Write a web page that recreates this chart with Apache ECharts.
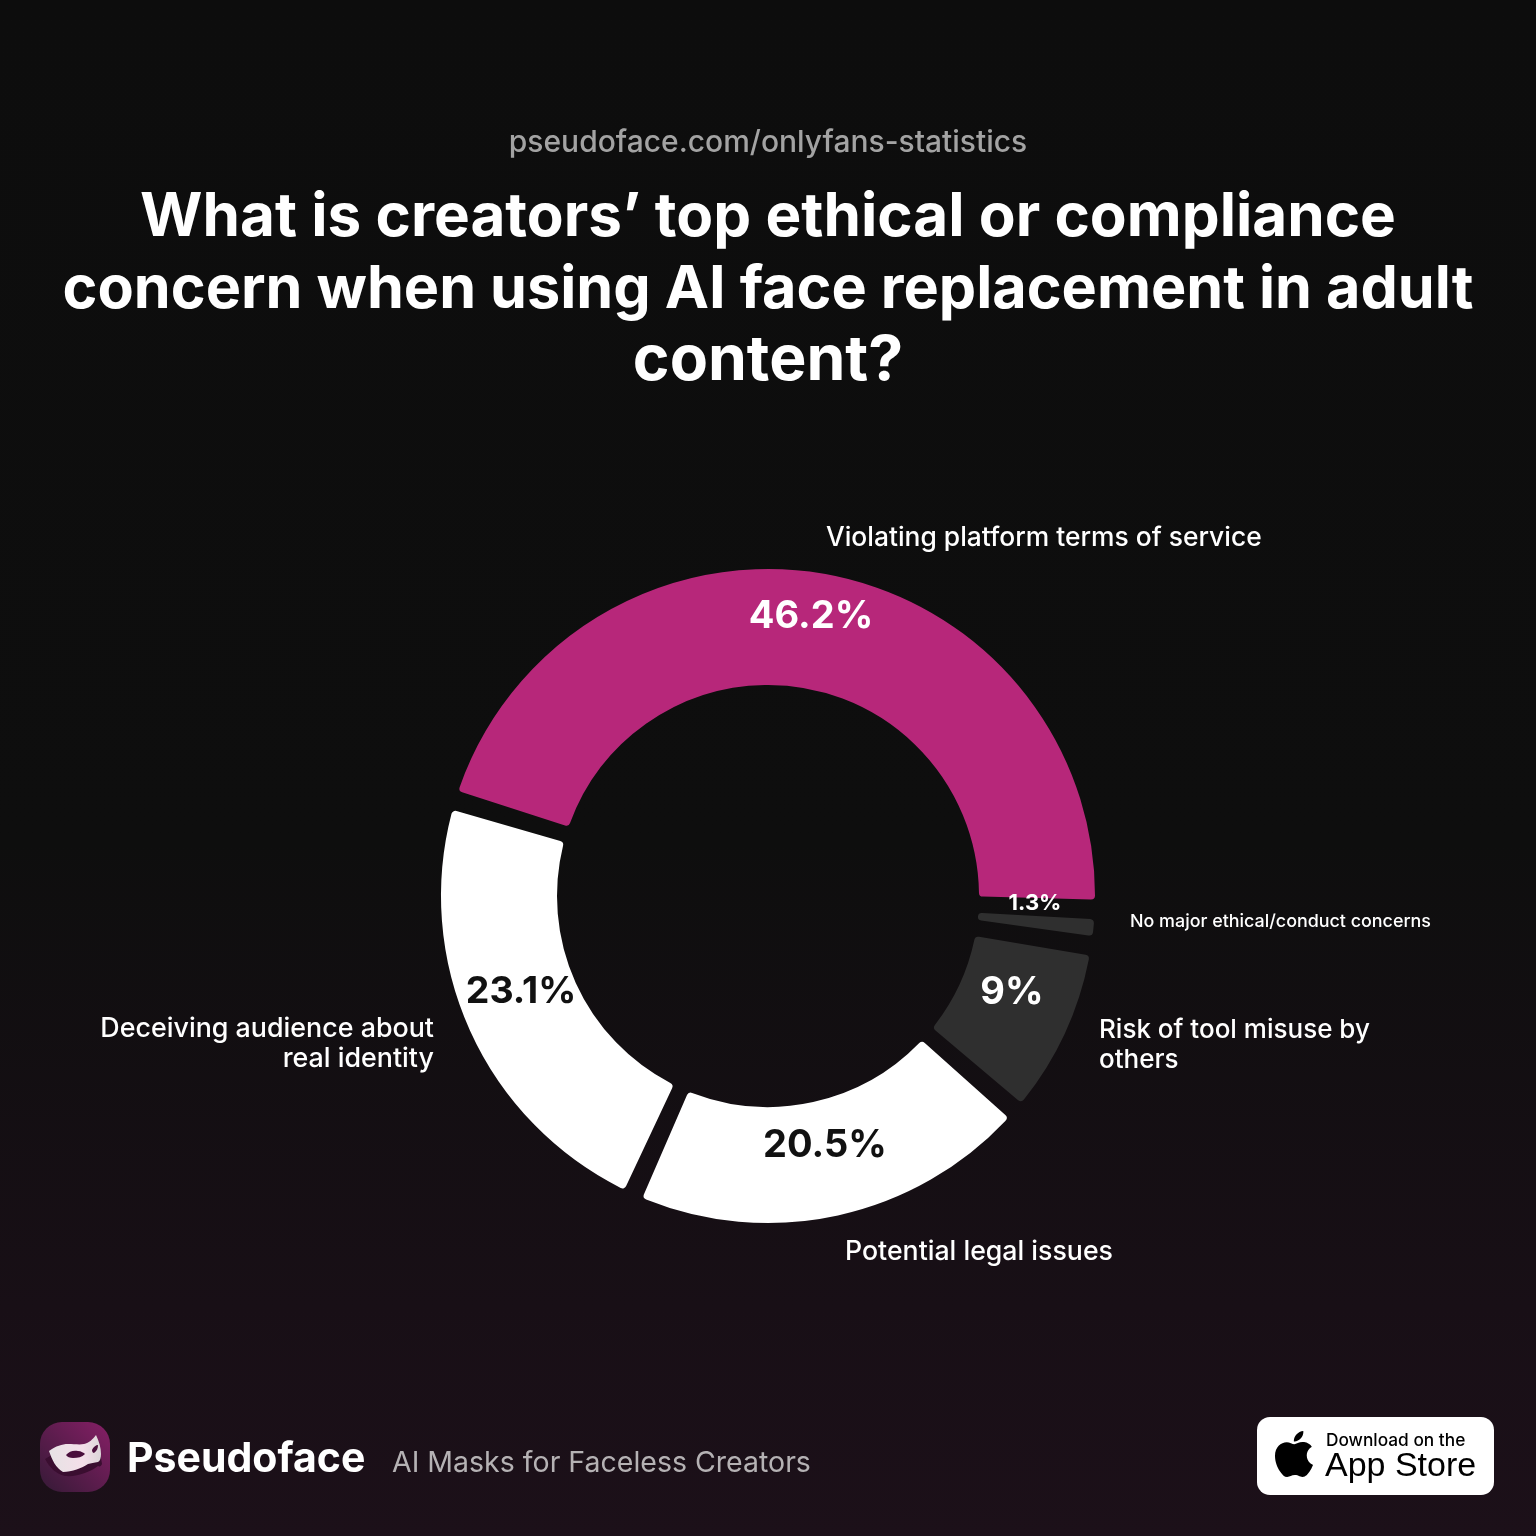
<!DOCTYPE html>
<html>
<head>
<meta charset="utf-8">
<style>html,body{margin:0;padding:0;background:#0e0e0e}#chart{width:1536px;height:1536px}</style>
<script src="https://cdn.jsdelivr.net/npm/echarts@6/dist/echarts.min.js"></script>
</head>
<body>
<div id="chart"></div>
<script>
// Survey answers, clockwise from the largest share
const categories = [
  'Violating platform terms of service',
  'No major ethical/conduct concerns',
  'Risk of tool misuse by\nothers',
  'Potential legal issues',
  'Deceiving audience about\nreal identity'
];
const shares = [46.2, 1.3, 9, 20.5, 23.1];

const sliceColors = ['#b7277a', '#2f2f2f', '#2f2f2f', '#ffffff', '#ffffff'];
const shareColors = ['#ffffff', '#ffffff', '#ffffff', '#111111', '#111111'];
const shareSizes = [38, 22, 38, 38, 37.5];
const sharePlaces = [[811, 617], [1035, 903], [1012, 993], [825, 1146], [521, 992]];
const namePlaces = [
  { x: 826, y: 538.5, size: 26.4, align: 'left' },
  { x: 1130, y: 922, size: 17.9, align: 'left' },
  { x: 1099, y: 1045.5, size: 26, align: 'left' },
  { x: 845, y: 1251.5, size: 26.7, align: 'left' },
  { x: 434, y: 1043.5, size: 26.85, align: 'right' }
];

const FONT = 'Inter';
const backdropStops = [
  { offset: 0, color: '#0d0d0d' },
  { offset: 0.55, color: '#0e0e0e' },
  { offset: 0.85, color: '#180f16' },
  { offset: 1, color: '#1c1019' }
];
const globalBackdrop = { type: 'linear', x: 0, y: 0, x2: 0, y2: 1536, global: true, colorStops: backdropStops };

// Brand and badge outlines registered as reusable shapes
const shapes = {
  apple: 'M788.1 340.9c-5.8 4.5-108.2 62.2-108.2 190.5 0 148.4 130.3 200.9 134.2 202.2-.6 3.2-20.7 71.9-68.7 141.9-42.8 61.6-87.5 123.1-155.5 123.1s-85.5-39.5-164-39.5c-76.5 0-103.7 40.8-165.9 40.8s-105.6-57-155.5-127C46.7 790.7 0 663 0 541.8c0-194.4 126.4-297.5 250.8-297.5 66.1 0 121.2 43.4 162.7 43.4 39.5 0 101.1-46 176.3-46 28.5 0 130.9 2.6 198.3 99.2zm-234-181.5c31.1-36.9 53.1-88.1 53.1-139.3 0-7.1-.6-14.3-1.9-20.1-50.6 1.9-110.8 33.7-147.1 75.8-28.5 32.4-55.1 83.6-55.1 135.5 0 7.8 1.3 15.6 1.9 18.1 3.2.6 8.4 1.3 13.6 1.3 45.4 0 102.5-30.4 135.5-71.3z',
  maskShadow: 'M45 1459 C50 1468 56 1474 65 1476 C78 1477 90 1472 98 1466 C100 1467 101 1466 102 1464 L100 1452 L60 1450 Z',
  maskFace: 'M49 1451 C56 1446 62 1444 68 1444 C74 1444 80 1445 84 1444 C89 1443 93 1439 96 1435 C99 1441 101 1448 101 1454 C101 1458 100 1461 98 1462 C94 1463 91 1463 88 1464 C82 1468 72 1472 63 1472 C56 1468 52 1460 49 1451 Z',
  maskEyes: 'M66 1455 C69 1451 74 1450 78 1451 C81 1451 84 1453 85 1454 C82 1457 78 1458 73 1458 C70 1458 67 1457 66 1455 Z M92 1450 C93 1447 96 1445 98 1445 C98 1448 97 1451 94 1453 C93 1453 92 1452 92 1450 Z'
};
Object.keys(shapes).forEach(name => {
  echarts.graphic.registerShape(name, echarts.graphic.extendPath(shapes[name], {}));
});

const chart = echarts.init(document.getElementById('chart'), null, { renderer: 'canvas' });

function textBlock(text, x, y, size, weight, color, align) {
  return {
    type: 'text', x, y, silent: true, z: 20,
    style: {
      text, fill: color, align: align || 'left', verticalAlign: 'middle',
      font: `${weight} ${size}px ${FONT}`
    }
  };
}

// Ring geometry shared by the visible pie and the one holding the names
const ring = {
  type: 'pie',
  center: [768, 896],
  radius: [206, 332],
  startAngle: 163,
  padAngle: 1.7,
  minAngle: 4.7,
  clockwise: true,
  avoidLabelOverlap: false,
  silent: true,
  labelLine: { show: false }
};

chart.setOption({
  animation: false,
  backgroundColor: { type: 'linear', x: 0, y: 0, x2: 0, y2: 1, colorStops: backdropStops },
  series: [
    {
      ...ring,
      data: categories.map((name, i) => ({
        name, value: shares[i],
        itemStyle: { color: sliceColors[i] },
        label: { color: shareColors[i], fontSize: shareSizes[i] }
      })),
      itemStyle: { borderWidth: 10, borderColor: globalBackdrop, borderRadius: 9 },
      label: {
        show: true, position: 'inside', fontFamily: FONT, fontWeight: 700,
        formatter: p => p.value + '%'
      },
      labelLayout: p => ({
        x: sharePlaces[p.dataIndex][0], y: sharePlaces[p.dataIndex][1],
        align: 'center', verticalAlign: 'middle'
      })
    },
    {
      ...ring,
      data: categories.map((name, i) => ({
        name, value: shares[i],
        label: { fontSize: namePlaces[i].size }
      })),
      itemStyle: { color: 'transparent' },
      label: {
        show: true, position: 'outside', color: '#ffffff', fontFamily: FONT,
        fontWeight: 500, lineHeight: 30, formatter: p => p.name
      },
      labelLayout: p => ({
        x: namePlaces[p.dataIndex].x, y: namePlaces[p.dataIndex].y,
        align: namePlaces[p.dataIndex].align, verticalAlign: 'middle'
      })
    }
  ],
  graphic: [
    textBlock('pseudoface.com/onlyfans-statistics', 768, 143, 30, 500, '#a3a3a3', 'center'),
    textBlock('What is creators’ top ethical or compliance', 768, 218, 60.2, 700, '#ffffff', 'center'),
    textBlock('concern when using AI face replacement in adult', 768, 290, 59.3, 700, '#ffffff', 'center'),
    textBlock('content?', 768, 361, 62.5, 700, '#ffffff', 'center'),

    // Brand mark
    {
      type: 'rect', z: 10, silent: true,
      shape: { x: 40, y: 1422, width: 70, height: 70, r: 22 },
      style: { fill: { type: 'linear', x: 1, y: 0, x2: 0, y2: 1, colorStops: [
        { offset: 0, color: '#861f66' }, { offset: 1, color: '#351a36' }
      ] } }
    },
    { type: 'maskShadow', z: 11, silent: true, style: { fill: '#3a0e30' } },
    {
      type: 'maskFace', z: 12, silent: true,
      style: { fill: { type: 'linear', x: 0, y: 0, x2: 1, y2: 0, colorStops: [
        { offset: 0, color: '#e6e2e4' }, { offset: 0.65, color: '#f4dfe9' }, { offset: 1, color: '#dcd6d9' }
      ] } }
    },
    { type: 'maskEyes', z: 13, silent: true, style: { fill: '#4a0f3c' } },
    textBlock('Pseudoface', 127, 1460, 41, 700, '#ffffff', 'left'),
    textBlock('AI Masks for Faceless Creators', 392, 1463.5, 28.5, 400, '#b5b2b4', 'left'),

    // Store badge
    {
      type: 'rect', z: 10, silent: true,
      shape: { x: 1257, y: 1417, width: 237, height: 78, r: 13 },
      style: { fill: '#ffffff' }
    },
    {
      type: 'apple', z: 11, silent: true,
      x: 1275, y: 1431, scaleX: 0.0467, scaleY: 0.046,
      style: { fill: '#000000' }
    },
    textBlock('Download on the', 1326, 1441, 17.3, 500, '#000000', 'left'),
    {
      type: 'text', x: 1325, y: 1467, z: 20, silent: true,
      style: { text: 'App Store', fill: '#000000', align: 'left', verticalAlign: 'middle', font: '500 34px "Liberation Sans"' }
    }
  ]
});
</script>
</body>
</html>
